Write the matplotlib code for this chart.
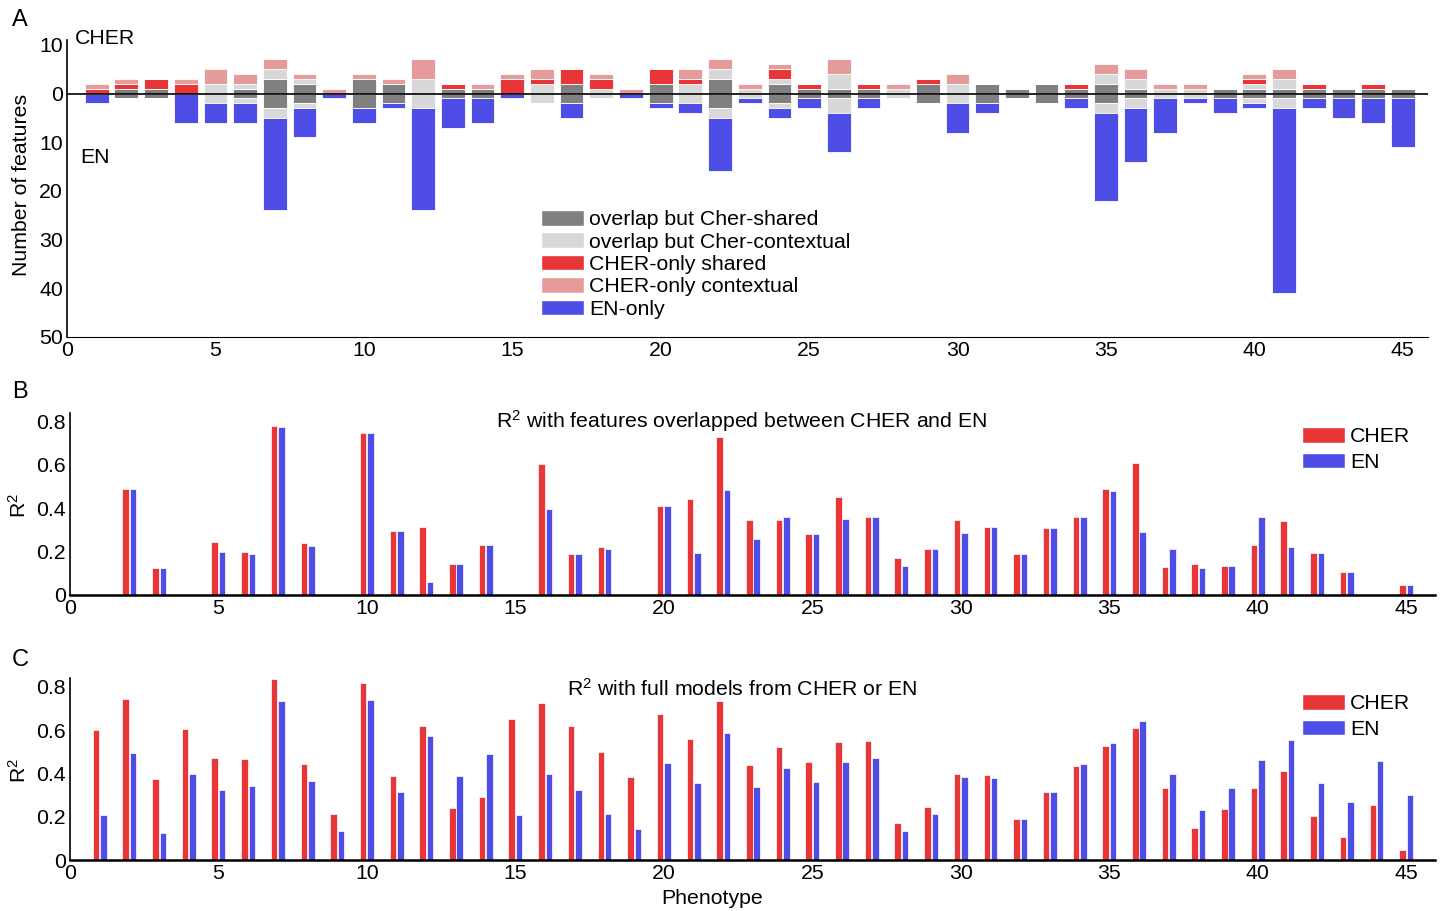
import matplotlib
matplotlib.use('Agg')
import matplotlib.pyplot as plt
from matplotlib.patches import Patch
import numpy as np

plt.rcParams['font.family'] = ['Liberation Sans', 'DejaVu Sans']
plt.rcParams['mathtext.fontset'] = 'custom'
plt.rcParams['mathtext.rm'] = 'Liberation Sans'
plt.rcParams['mathtext.it'] = 'Liberation Sans:italic'

# phenotypes 1..45
phenotype = np.arange(1, 46)

# panel A: number of features per category
overlap_shared = [0, 1, 1, 0, 0, 1, 3, 2, 0, 3, 2, 0, 1, 1, 0, 0, 2, 0, 0, 2, 0, 3, 0, 2, 1,
                  1, 1, 0, 2, 0, 2, 1, 2, 1, 2, 1, 0, 0, 1, 1, 1, 1, 1, 1, 1]
overlap_context = [0, 0, 0, 0, 2, 1, 2, 1, 0, 0, 0, 3, 0, 0, 0, 2, 0, 1, 0, 0, 2, 2, 1, 1, 0,
                   3, 0, 1, 0, 2, 0, 0, 0, 0, 2, 2, 1, 1, 0, 1, 2, 0, 0, 0, 0]
cher_shared = [1, 1, 2, 2, 0, 0, 0, 0, 0, 0, 0, 0, 1, 0, 3, 1, 3, 2, 0, 3, 1, 0, 0, 2, 1,
               0, 1, 0, 1, 0, 0, 0, 0, 1, 0, 0, 0, 0, 0, 1, 0, 1, 0, 1, 0]
cher_context = [1, 1, 0, 1, 3, 2, 2, 1, 1, 1, 1, 4, 0, 1, 1, 2, 0, 1, 1, 0, 2, 2, 1, 1, 0,
                3, 0, 1, 0, 2, 0, 0, 0, 0, 2, 2, 1, 1, 0, 1, 2, 0, 0, 0, 0]
en_only = [2, 0, 0, 6, 4, 4, 19, 6, 1, 3, 1, 21, 6, 5, 1, 0, 3, 0, 1, 1, 2, 11, 1, 2, 2,
           8, 2, 0, 0, 6, 2, 0, 0, 2, 18, 11, 7, 1, 3, 1, 38, 2, 4, 5, 10]

# panel B: R2 with overlapped features
r2_overlap_cher = [0, 0.489, 0.123, 0, 0.246, 0.200, 0.780, 0.240, 0, 0.746, 0.294, 0.312,
                   0.143, 0.231, 0, 0.606, 0.188, 0.222, 0, 0.409, 0.443, 0.729, 0.346,
                   0.346, 0.280, 0.452, 0.358, 0.169, 0.211, 0.346, 0.315, 0.188, 0.311,
                   0.358, 0.488, 0.608, 0.131, 0.145, 0.132, 0.229, 0.343, 0.194, 0.105,
                   0, 0.045]
r2_overlap_en = [0, 0.489, 0.123, 0, 0.197, 0.188, 0.774, 0.226, 0, 0.746, 0.294, 0.060,
                 0.143, 0.231, 0, 0.395, 0.188, 0.212, 0, 0.409, 0.192, 0.483, 0.257,
                 0.360, 0.280, 0.351, 0.358, 0.134, 0.211, 0.286, 0.315, 0.188, 0.311,
                 0.358, 0.482, 0.289, 0.211, 0.123, 0.132, 0.362, 0.222, 0.194, 0.105,
                 0, 0.045]

# panel C: R2 with full models
r2_full_cher = [0.600, 0.743, 0.374, 0.605, 0.472, 0.465, 0.834, 0.445, 0.211, 0.817,
                0.388, 0.617, 0.242, 0.289, 0.651, 0.726, 0.618, 0.498, 0.382, 0.675,
                0.560, 0.732, 0.440, 0.520, 0.454, 0.543, 0.549, 0.171, 0.246, 0.398,
                0.392, 0.189, 0.312, 0.434, 0.528, 0.609, 0.334, 0.146, 0.237, 0.331,
                0.412, 0.205, 0.106, 0.255, 0.046]
r2_full_en = [0.208, 0.492, 0.126, 0.398, 0.325, 0.343, 0.732, 0.363, 0.132, 0.740,
              0.315, 0.571, 0.389, 0.488, 0.208, 0.395, 0.322, 0.214, 0.145, 0.449,
              0.357, 0.586, 0.337, 0.425, 0.358, 0.454, 0.469, 0.135, 0.214, 0.383,
              0.378, 0.189, 0.312, 0.443, 0.540, 0.643, 0.398, 0.229, 0.332, 0.462,
              0.555, 0.355, 0.269, 0.455, 0.302]

c_dark = '#808080'
c_light = '#d8d8d8'
c_red = '#e83538'
c_pink = '#e69b9b'
c_blue = '#4e4ee6'

W, H = 1440, 911
fig = plt.figure(figsize=(14.4, 9.11), dpi=100)


def box(l, t, r, b):
    return [l / W, 1 - b / H, (r - l) / W, (b - t) / H]


fs = 15.3

# ---------------- panel A ----------------
axA = fig.add_axes(box(67, 40, 1428, 337))
os_ = np.array(overlap_shared)
oc = np.array(overlap_context)
cs = np.array(cher_shared)
cc = np.array(cher_context)
en = np.array(en_only)
kw = dict(width=0.8, edgecolor='white', linewidth=0.6)
axA.bar(phenotype, os_, color=c_dark, **kw)
axA.bar(phenotype, oc, bottom=os_, color=c_light, **kw)
axA.bar(phenotype, cs, bottom=os_ + oc, color=c_red, **kw)
axA.bar(phenotype, cc, bottom=os_ + oc + cs, color=c_pink, **kw)
axA.bar(phenotype, -os_, color=c_dark, **kw)
axA.bar(phenotype, -oc, bottom=-os_, color=c_light, **kw)
axA.bar(phenotype, -en, bottom=-os_ - oc, color=c_blue, **kw)
axA.axhline(0, color='black', lw=1.2, zorder=5)
axA.set_xlim(0, 45.85)
axA.set_ylim(-50, 11)
axA.set_yticks([10, 0, -10, -20, -30, -40, -50])
axA.set_yticklabels(['10', '0', '10', '20', '30', '40', '50'])
axA.set_xticks(range(0, 46, 5))
axA.text(0.27, 11.3, 'CHER', fontsize=fs, ha='left', va='center')
axA.text(0.45, -13.2, 'EN', fontsize=fs, ha='left', va='center')
handles = [Patch(facecolor=c_dark, edgecolor='white'),
           Patch(facecolor=c_light, edgecolor='white'),
           Patch(facecolor=c_red, edgecolor='white'),
           Patch(facecolor=c_pink, edgecolor='white'),
           Patch(facecolor=c_blue, edgecolor='white')]
labels = ['overlap but Cher-shared', 'overlap but Cher-contextual',
          'CHER-only shared', 'CHER-only contextual', 'EN-only']
axA.legend(handles, labels, loc='upper left', bbox_to_anchor=(541 / W, 1 - 210 / H),
           bbox_transform=fig.transFigure, frameon=False, fontsize=fs,
           handlelength=2.0, handleheight=0.75, handletextpad=0.25,
           labelspacing=0.15, borderpad=0, borderaxespad=0)

# ---------------- panels B and C ----------------
def r2_panel(ax, cher, enr, leg_top):
    ax.bar(phenotype - 0.125, cher, width=0.22, color=c_red, edgecolor='white', linewidth=0.5)
    ax.bar(phenotype + 0.125, enr, width=0.22, color=c_blue, edgecolor='white', linewidth=0.5)
    ax.set_xlim(0, 45.97)
    ax.set_ylim(0, 0.84)
    ax.set_yticks([0, 0.2, 0.4, 0.6, 0.8])
    ax.set_yticklabels(['0', '0.2', '0.4', '0.6', '0.8'])
    ax.set_xticks(range(0, 46, 5))
    ax.spines['bottom'].set_linewidth(1.8)
    ax.legend([Patch(facecolor=c_red, edgecolor='white'),
               Patch(facecolor=c_blue, edgecolor='white')], ['CHER', 'EN'],
              loc='upper left', bbox_to_anchor=(1302 / W, 1 - leg_top / H),
              bbox_transform=fig.transFigure, frameon=False, fontsize=fs,
              handlelength=2.0, handleheight=0.75, handletextpad=0.25,
              labelspacing=0.3, borderpad=0, borderaxespad=0)


axB = fig.add_axes(box(70, 413, 1435, 595))
r2_panel(axB, r2_overlap_cher, r2_overlap_en, 427)
axC = fig.add_axes(box(70, 678, 1435, 860))
r2_panel(axC, r2_full_cher, r2_full_en, 694)

for ax in (axA, axB, axC):
    for s in ('top', 'right'):
        ax.spines[s].set_visible(False)
    ax.spines['left'].set_linewidth(1.2)
    ax.tick_params(length=0, labelsize=fs, pad=3)

fig.text(742 / W, 1 - 421 / H, 'R$^2$ with features overlapped between CHER and EN',
         fontsize=fs, ha='center', va='center')
fig.text(742 / W, 1 - 689 / H, 'R$^2$ with full models from CHER or EN',
         fontsize=fs, ha='center', va='center')

fig.text(22 / W, 1 - 185 / H, 'Number of features', rotation=90, fontsize=fs,
         ha='center', va='center')
fig.text(19 / W, 1 - 505 / H, 'R$^2$', rotation=90, fontsize=fs, ha='center', va='center')
fig.text(19 / W, 1 - 770 / H, 'R$^2$', rotation=90, fontsize=fs, ha='center', va='center')
fig.text(712 / W, 1 - 898 / H, 'Phenotype', fontsize=fs, ha='center', va='center')

fig.text(20 / W, 1 - 20 / H, 'A', fontsize=17, ha='center', va='center')
fig.text(20 / W, 1 - 392 / H, 'B', fontsize=17, ha='center', va='center')
fig.text(20 / W, 1 - 660 / H, 'C', fontsize=17, ha='center', va='center')

fig.savefig('out.png', dpi=100)
